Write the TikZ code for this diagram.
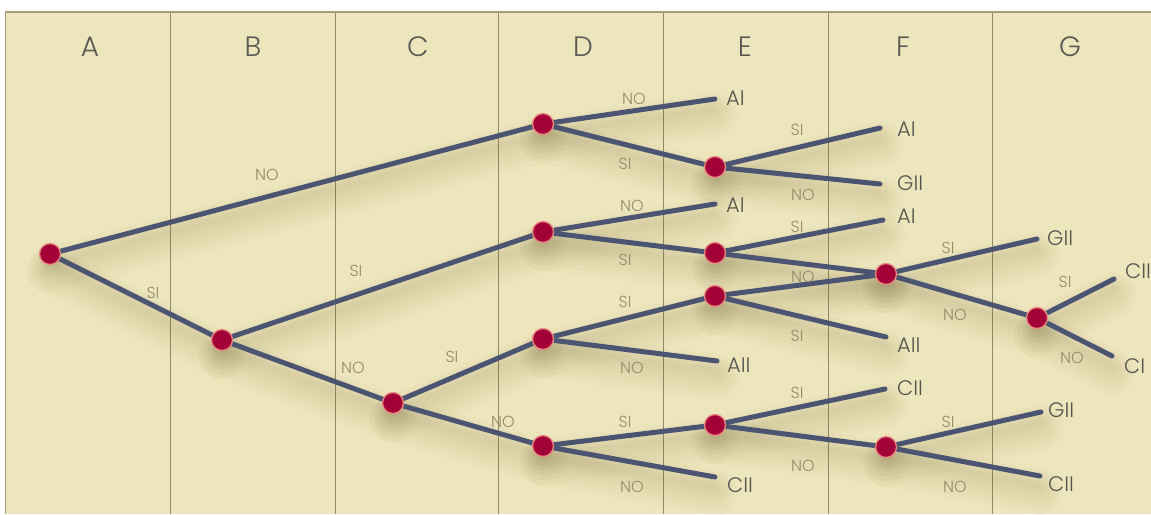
\documentclass[tikz,border=0pt]{standalone}
\usepackage{fontspec}
\setmainfont{Poppins}[UprightFont={* Light}]
\definecolor{bgc}{HTML}{EDE6BD}
\definecolor{framec}{HTML}{A49D7C}
\definecolor{divc}{HTML}{8E8A6A}
\definecolor{edgec}{HTML}{4B5572}
\definecolor{shdc}{HTML}{6E6232}
\definecolor{dotc}{HTML}{A30038}
\definecolor{dotring}{HTML}{E88A80}
\definecolor{brc}{HTML}{948B6C}
\definecolor{leafc}{HTML}{555550}
\definecolor{colc}{HTML}{5A5A55}
\begin{document}
\begin{tikzpicture}[x=1pt,y=-1pt,
  edge/.style={line width=5pt,draw=edgec,line cap=round},
  shd/.style={draw=shdc,line cap=round,opacity=0.025},
  dot/.style={circle,fill=dotc,draw=dotring,line width=1.3pt,minimum size=21pt,inner sep=0pt},
  leaf/.style={anchor=west,text=leafc,font=\fontsize{21}{21}\selectfont,inner sep=0pt},
  br/.style={text=brc,font=\fontsize{16}{16}\selectfont,inner sep=0pt},
  colhead/.style={text=colc,font=\fontsize{28}{28}\selectfont,inner sep=0pt}]

\useasboundingbox (0,0) rectangle (1151,514);
\fill[white] (0,0) rectangle (1151,514);
\fill[bgc] (5,12) rectangle (1151,514);
\draw[framec,line width=2pt] (5,12) -- (1151,12);
\draw[framec,line width=1pt] (5,12) -- (5,514);
\foreach \x in {170,335,498,663,828,992}
  \draw[divc,line width=0.9pt] (\x,13) -- (\x,514);

% column headings
\node[colhead] (hA) at (90,47) {A};
\node[colhead] (hB) at (253,47) {B};
\node[colhead] (hC) at (418,47) {C};
\node[colhead] (hD) at (583,47) {D};
\node[colhead] (hE) at (745,47) {E};
\node[colhead] (hF) at (903,47) {F};
\node[colhead] (hG) at (1070,47) {G};

% decision points
\coordinate (n1) at (50,254);
\coordinate (n2) at (222,340);
\coordinate (n3) at (393,403);
\coordinate (d1) at (543,124);
\coordinate (d2) at (543,232);
\coordinate (d3) at (543,339);
\coordinate (d4) at (543,446);
\coordinate (e1) at (715,167);
\coordinate (e2) at (715,253);
\coordinate (e3) at (715,296);
\coordinate (e4) at (715,425);
\coordinate (f1) at (886,274);
\coordinate (f2) at (886,447);
\coordinate (g1) at (1037,318);
% leaf ends
\coordinate (la1) at (715,99);
\coordinate (la2) at (880,128);
\coordinate (lg1) at (880,184);
\coordinate (la3) at (715,204);
\coordinate (la4) at (883,220);
\coordinate (lg2) at (1037,239);
\coordinate (lc3) at (1114,279);
\coordinate (lci) at (1112,356);
\coordinate (lall1) at (886,337);
\coordinate (lall2) at (717,361);
\coordinate (lc1) at (715,477);
\coordinate (lc2) at (885,389);
\coordinate (lg3) at (1041,412);
\coordinate (lc4) at (1040,476);

\def\edgelist{n1/d1,n1/n2,n2/d2,n2/n3,n3/d3,n3/d4,d1/la1,d1/e1,e1/la2,e1/lg1,d2/la3,d2/e2,e2/la4,e2/f1,e3/f1,e3/lall1,d3/e3,d3/lall2,d4/e4,d4/lc1,e4/lc2,e4/f2,f1/lg2,f1/g1,g1/lc3,g1/lci,f2/lg3,f2/lc4}

% soft shadows
\foreach \a/\b in \edgelist {
  \foreach \w/\s in {46/16,38/15,30/14,23/13,17/12,11/11,6/10} {
    \draw[shd,line width=\w pt] ([yshift=-\s pt]\a) -- ([yshift=-\s pt]\b);
  }
}
% connectors
\foreach \a/\b in \edgelist
  \draw[edge] (\a) -- (\b);

% dots
\foreach \p in {n1,n2,n3,d1,d2,d3,d4,e1,e2,e3,e4,f1,f2,g1}
  \node[dot] (\p c) at (\p) {};

% leaf labels
\node[leaf] (ta1) at (726,98) {AI};
\node[leaf] (ta2) at (897,129) {AI};
\node[leaf] (tg1) at (897,183) {GII};
\node[leaf] (ta3) at (726,205) {AI};
\node[leaf] (ta4) at (897,216) {AI};
\node[leaf] (tg2) at (1047,238) {GII};
\node[leaf] (tc3) at (1125,271) {CII};
\node[leaf] (tci) at (1124,366) {CI};
\node[leaf] (tall1) at (897,345) {AII};
\node[leaf] (tall2) at (727,365) {AII};
\node[leaf] (tc1) at (727,485) {CII};
\node[leaf] (tc2) at (897,388) {CII};
\node[leaf] (tg3) at (1048,410) {GII};
\node[leaf] (tc4) at (1048,484) {CII};

% branch labels
\node[br] (b1) at (267,175) {NO};
\node[br] (b2) at (153,293) {SI};
\node[br] (b3) at (356,271) {SI};
\node[br] (b4) at (353,368) {NO};
\node[br] (b5) at (452,357) {SI};
\node[br] (b6) at (503,422) {NO};
\node[br] (b7) at (634,99) {NO};
\node[br] (b8) at (625,164) {SI};
\node[br] (b9) at (632,206) {NO};
\node[br] (b10) at (625,260) {SI};
\node[br] (b11) at (625,302) {SI};
\node[br] (b12) at (632,368) {NO};
\node[br] (b13) at (625,422) {SI};
\node[br] (b14) at (632,487) {NO};
\node[br] (b15) at (797,130) {SI};
\node[br] (b16) at (803,195) {NO};
\node[br] (b17) at (797,227) {SI};
\node[br] (b18) at (803,277) {NO};
\node[br] (b19) at (797,336) {SI};
\node[br] (b20) at (797,393) {SI};
\node[br] (b21) at (803,466) {NO};
\node[br] (b22) at (948,248) {SI};
\node[br] (b23) at (955,315) {NO};
\node[br] (b24) at (1065,282) {SI};
\node[br] (b25) at (1072,358) {NO};
\node[br] (b26) at (948,422) {SI};
\node[br] (b27) at (955,487) {NO};
\end{tikzpicture}
\end{document}
